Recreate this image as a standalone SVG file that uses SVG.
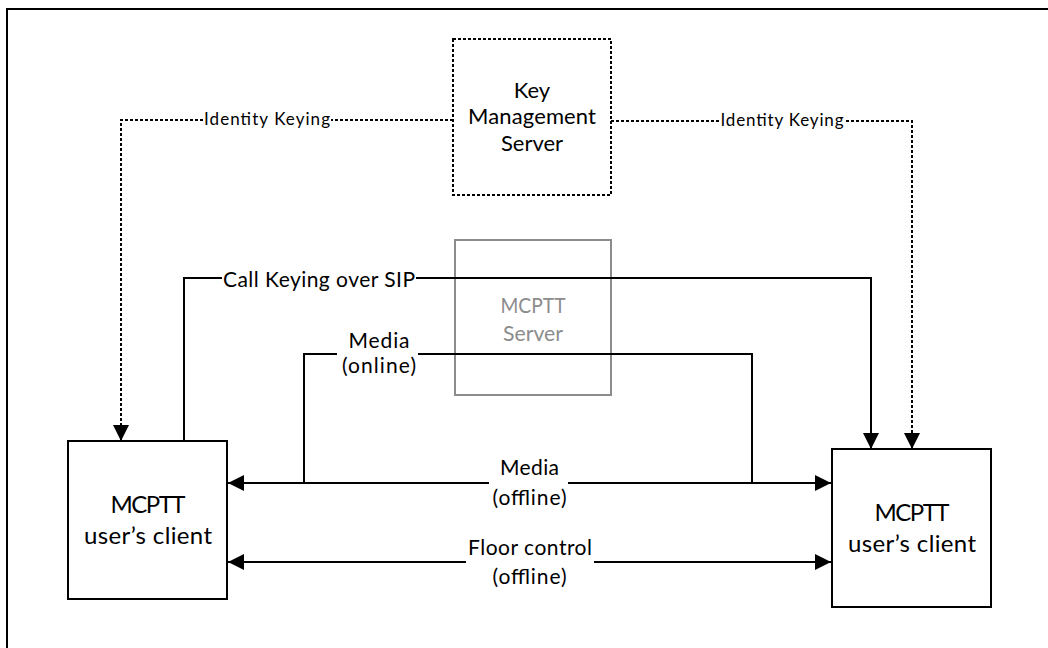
<svg xmlns="http://www.w3.org/2000/svg" width="1048" height="648" viewBox="0 0 1048 648">
<style>
text{font-family:Lato,"Open Sans","Liberation Sans",sans-serif;fill:#000;text-anchor:middle}
.box{fill:#fff;stroke:#000;stroke-width:2}
.dotbox{fill:#fff;stroke:#000;stroke-width:2;stroke-dasharray:3 2}
.gbox{fill:none;stroke:#8c8c8c;stroke-width:2}
.gtext{fill:#8c8c8c}
.ln{fill:none;stroke:#000;stroke-width:2}
.dot{fill:none;stroke:#000;stroke-width:2;stroke-dasharray:3 2}
.lbl{font-size:21px}
.kms{font-size:22px}
.big{font-size:24px}
.small{font-size:17px}
.bg{fill:#fff;stroke:none}
</style>
<defs>
<marker id="ah" markerUnits="userSpaceOnUse" markerWidth="16" markerHeight="16" viewBox="0 0 15 15" refX="15" refY="7.5" orient="auto-start-reverse">
<path d="M0,0 L15,7.5 L0,15 z" fill="#000"/>
</marker>
</defs>
<path d="M7,648 V9 H1048" fill="none" stroke="#000" stroke-width="2"/>
<g id="mcptt-server">
<rect class="gbox" x="455" y="240" width="156" height="155"/>
<text class="lbl gtext" x="533" y="313" textLength="65" lengthAdjust="spacingAndGlyphs">MCPTT</text>
<text class="lbl gtext" x="533" y="341" textLength="60" lengthAdjust="spacingAndGlyphs">Server</text>
</g>
<g id="connectors">
<path class="dot" d="M453,120 H121 V441" marker-end="url(#ah)"/>
<path class="dot" d="M611,121 H912 V449" marker-end="url(#ah)"/>
<path class="ln" d="M184,441 V278 H871 V449" marker-end="url(#ah)"/>
<path class="ln" d="M304,483 V354 H752 V483"/>
<path class="ln" d="M228,483 H831" marker-start="url(#ah)" marker-end="url(#ah)"/>
<path class="ln" d="M228,562 H831" marker-start="url(#ah)" marker-end="url(#ah)"/>
<rect class="bg" x="203" y="108" width="128" height="24"/>
<text class="small" x="267" y="125" textLength="126" lengthAdjust="spacing">Identity Keying</text>
<rect class="bg" x="719" y="109" width="125" height="24"/>
<text class="small" x="782" y="126" textLength="123" lengthAdjust="spacing">Identity Keying</text>
<rect class="bg" x="222" y="266" width="194" height="26"/>
<text class="lbl" x="319" y="287" textLength="192" lengthAdjust="spacing">Call Keying over SIP</text>
<rect class="bg" x="337" y="330" width="81" height="50"/>
<text class="lbl" x="379" y="348" textLength="61" lengthAdjust="spacing">Media</text>
<text class="lbl" x="379" y="373" textLength="74" lengthAdjust="spacing">(online)</text>
<rect class="bg" x="489" y="458" width="79" height="52"/>
<text class="lbl" x="529.5" y="475" textLength="59" lengthAdjust="spacing">Media</text>
<text class="lbl" x="529.5" y="505" textLength="74" lengthAdjust="spacing">(offline)</text>
<rect class="bg" x="466" y="537" width="128" height="52"/>
<text class="lbl" x="530" y="555" textLength="124" lengthAdjust="spacing">Floor control</text>
<text class="lbl" x="529.5" y="584" textLength="74" lengthAdjust="spacing">(offline)</text>
</g>
<g id="kms">
<rect class="dotbox" x="453" y="39" width="158" height="156"/>
<text class="kms" x="532" y="98">Key</text>
<text class="kms" x="532" y="124" textLength="128" lengthAdjust="spacing">Management</text>
<text class="kms" x="532" y="151">Server</text>
</g>
<g id="client-left">
<rect class="box" x="68" y="441" width="159" height="158"/>
<text class="big" x="148" y="513" textLength="75" lengthAdjust="spacing">MCPTT</text>
<text class="big" x="148" y="544" textLength="128" lengthAdjust="spacing">user’s client</text>
</g>
<g id="client-right">
<rect class="box" x="832" y="449" width="159" height="158"/>
<text class="big" x="912" y="521" textLength="75" lengthAdjust="spacing">MCPTT</text>
<text class="big" x="912" y="552" textLength="128" lengthAdjust="spacing">user’s client</text>
</g>
</svg>
